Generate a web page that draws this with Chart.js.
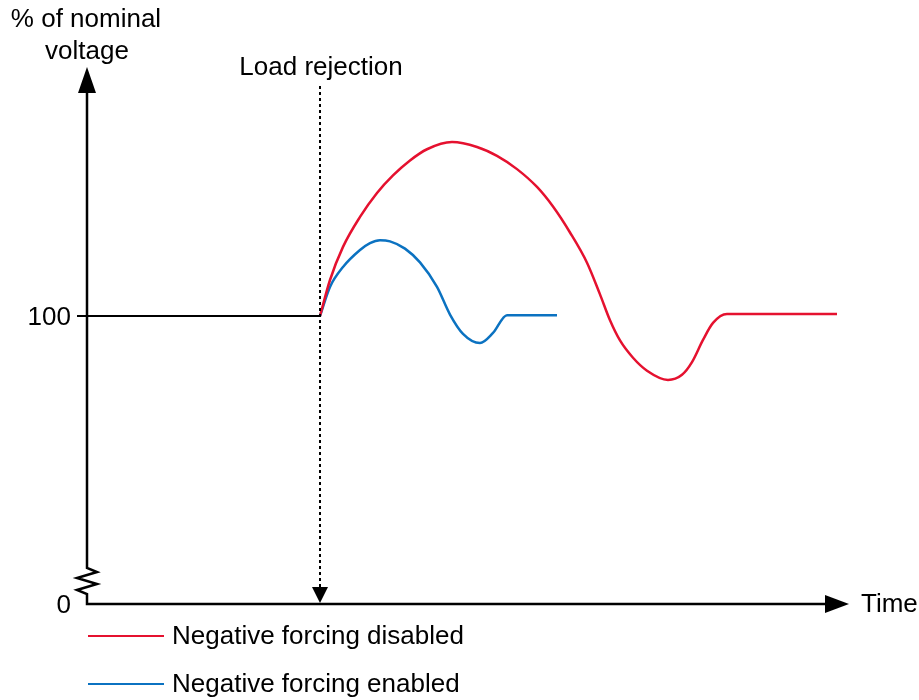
<!DOCTYPE html>
<html>
<head>
<meta charset="utf-8">
<script src="https://cdn.jsdelivr.net/npm/chart.js@4"></script>
<style>
  html, body { margin: 0; padding: 0; background: #fff; }
  canvas { display: block; }
</style>
</head>
<body>
<canvas id="chart" width="919" height="700"></canvas>
<script>
// Time axis in arbitrary units (0 = origin), voltage in % of nominal
const loadRejectionTime = 233;

const preTime = [-10, 233];
const preVoltage = [100, 100];

const disabledTime = [233, 243, 256, 273, 290, 306, 323, 340, 365, 390, 410, 430, 450, 466, 483, 500, 513, 523, 533, 546, 560, 581, 595, 605, 616, 626, 640, 750];
const disabledVoltage = [100, 112.5, 124.0, 134.4, 142.7, 148.8, 154.0, 157.9, 160.4, 158.7, 155.6, 151.0, 144.8, 138.0, 129.0, 118.5, 107.5, 98.5, 91.5, 85.5, 81.0, 77.8, 79.6, 84.0, 91.7, 97.6, 100.7, 100.7];

const enabledTime = [233, 243, 256, 273, 283, 293, 303, 318, 333, 350, 363, 376, 393, 406, 420, 470];
const enabledVoltage = [100, 110.1, 117.0, 122.9, 125.3, 126.3, 125.9, 123.4, 118.6, 110.1, 100.5, 93.8, 90.6, 94.1, 100.3, 100.3];

const yTicks = [0, 100];

const RED = '#e5112f';
const BLUE = '#0b72c1';
const FONT = '"Liberation Sans", Arial, sans-serif';

function zip(xs, ys) {
  return xs.map((x, i) => ({ x: x, y: ys[i] }));
}

// Draws axes, arrows, the load rejection marker and the legend
const decorations = {
  id: 'decorations',
  afterDatasetsDraw(chart) {
    const ctx = chart.ctx;
    const xs = chart.scales.x;
    const ys = chart.scales.y;
    const x0 = xs.getPixelForValue(0);
    const y0 = ys.getPixelForValue(0);
    const yTop = chart.chartArea.top;
    const xRight = chart.chartArea.right;

    ctx.save();
    ctx.strokeStyle = '#000';
    ctx.fillStyle = '#000';
    ctx.lineWidth = 2.5;

    // y axis with break zigzag
    ctx.beginPath();
    ctx.moveTo(x0, yTop + 20);
    ctx.lineTo(x0, y0 - 36);
    ctx.lineTo(x0 + 10, y0 - 32);
    ctx.lineTo(x0 - 10, y0 - 26);
    ctx.lineTo(x0 + 10, y0 - 20);
    ctx.lineTo(x0 - 10, y0 - 14);
    ctx.lineTo(x0, y0 - 10);
    ctx.lineTo(x0, y0);
    ctx.lineTo(xRight - 20, y0);
    ctx.stroke();

    // arrow heads
    ctx.beginPath();
    ctx.moveTo(x0, yTop + 2);
    ctx.lineTo(x0 - 9, yTop + 28);
    ctx.lineTo(x0 + 9, yTop + 28);
    ctx.closePath();
    ctx.fill();
    ctx.beginPath();
    ctx.moveTo(xRight, y0);
    ctx.lineTo(xRight - 24, y0 - 9);
    ctx.lineTo(xRight - 24, y0 + 9);
    ctx.closePath();
    ctx.fill();

    // load rejection dashed marker
    const xl = xs.getPixelForValue(loadRejectionTime);
    ctx.lineWidth = 2;
    ctx.setLineDash([3, 3]);
    ctx.beginPath();
    ctx.moveTo(xl, 86);
    ctx.lineTo(xl, y0 - 16);
    ctx.stroke();
    ctx.setLineDash([]);
    ctx.beginPath();
    ctx.moveTo(xl, y0 - 1);
    ctx.lineTo(xl - 8, y0 - 17);
    ctx.lineTo(xl + 8, y0 - 17);
    ctx.closePath();
    ctx.fill();

    // texts
    ctx.font = '26px ' + FONT;
    ctx.textBaseline = 'middle';
    ctx.textAlign = 'center';
    ctx.fillText('% of nominal', x0 - 1, 20);
    ctx.fillText('voltage', x0, 52);
    ctx.fillText('Load rejection', xl + 1, 68);
    ctx.textAlign = 'right';
    yTicks.forEach(v => {
      ctx.fillText(String(v), x0 - 16, ys.getPixelForValue(v) + 2);
    });
    ctx.textAlign = 'left';
    ctx.fillText('Time', xRight + 12, y0 + 1);

    // legend
    const legend = [
      { label: 'Negative forcing disabled', color: RED, y: 636 },
      { label: 'Negative forcing enabled', color: BLUE, y: 684 }
    ];
    legend.forEach(item => {
      ctx.strokeStyle = item.color;
      ctx.lineWidth = 2;
      ctx.beginPath();
      ctx.moveTo(88, item.y);
      ctx.lineTo(164, item.y);
      ctx.stroke();
      ctx.fillStyle = '#000';
      ctx.fillText(item.label, 172, item.y + 1);
    });

    ctx.restore();
  }
};

new Chart(document.getElementById('chart'), {
  type: 'line',
  data: {
    datasets: [
      {
        label: 'Before',
        data: zip(preTime, preVoltage),
        borderColor: '#000',
        borderWidth: 2,
        pointRadius: 0,
        tension: 0
      },
      {
        label: 'Negative forcing disabled',
        data: zip(disabledTime, disabledVoltage),
        borderColor: RED,
        borderWidth: 2.5,
        pointRadius: 0,
        cubicInterpolationMode: 'monotone'
      },
      {
        label: 'Negative forcing enabled',
        data: zip(enabledTime, enabledVoltage),
        borderColor: BLUE,
        borderWidth: 2.5,
        pointRadius: 0,
        cubicInterpolationMode: 'monotone'
      }
    ]
  },
  options: {
    responsive: false,
    animation: false,
    clip: false,
    layout: { padding: { left: 87, right: 70, top: 65, bottom: 96 } },
    plugins: { legend: { display: false }, tooltip: { enabled: false } },
    scales: {
      x: { type: 'linear', min: 0, max: 762, display: false },
      y: { type: 'linear', min: 0, max: (604 - 65) / 2.88, display: false }
    }
  },
  plugins: [decorations]
});
</script>
</body>
</html>
